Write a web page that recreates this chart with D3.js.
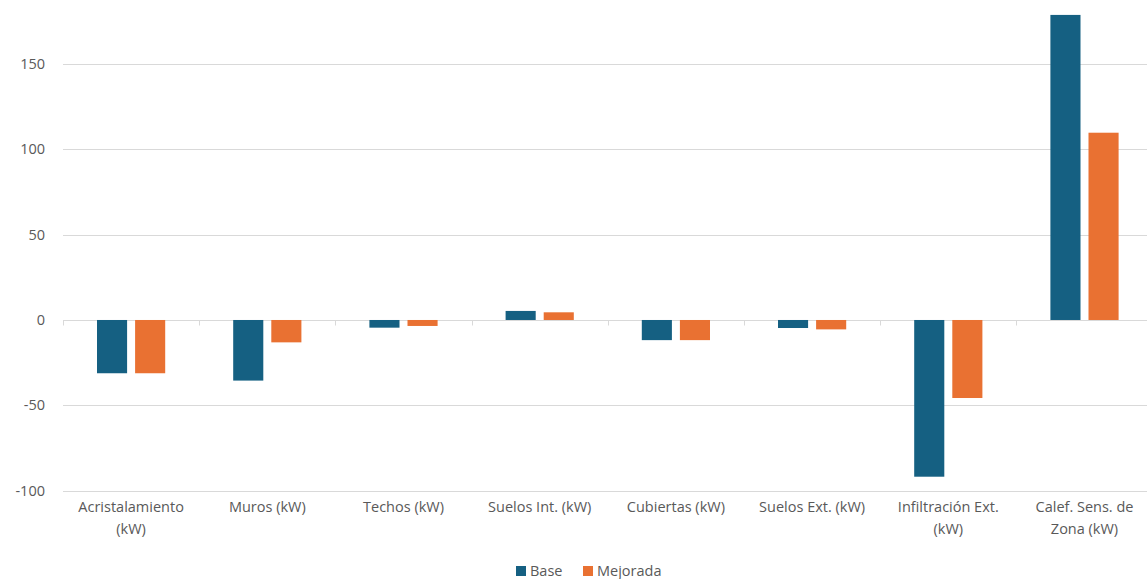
<!DOCTYPE html>
<html>
<head>
<meta charset="utf-8">
<script src="https://cdn.jsdelivr.net/npm/d3@7"></script>
<style>
  html, body { margin: 0; padding: 0; background: #fff; }
  svg { display: block; }
  text { font-family: "Open Sans", "Liberation Sans", sans-serif; fill: #595959; }
</style>
</head>
<body>
<svg id="chart" width="1147" height="579"></svg>
<script>
// Heat balance components (kW) for the base and improved building
const categories = [
  "Acristalamiento (kW)", "Muros (kW)", "Techos (kW)", "Suelos Int. (kW)",
  "Cubiertas (kW)", "Suelos Ext. (kW)", "Infiltración Ext. (kW)", "Calef. Sens. de Zona (kW)"
];
const seriesNames = ["Base", "Mejorada"];
const baseValues = [-31.2, -35.5, -4.5, 5.3, -11.8, -4.7, -91.8, 178.7];
const mejoradaValues = [-31.2, -13.1, -3.5, 4.5, -11.8, -5.5, -45.7, 109.7];
const yTicks = [-100, -50, 0, 50, 100, 150];
const colors = ["#156082", "#E97132"];

const svg = d3.select("#chart");
const plotLeft = 63, bandW = 136.2;
const x = d3.scaleBand()
  .domain(categories)
  .range([plotLeft, plotLeft + bandW * categories.length])
  .paddingInner(0).paddingOuter(0);
const y = d3.scaleLinear().domain([-100, 180]).range([490.7, 12.7]);
const xs = d3.scaleBand().domain(seriesNames).range([34, bandW - 34]).paddingInner(0.21);

// Horizontal gridlines
svg.append("g")
  .selectAll("line")
  .data(yTicks)
  .join("line")
  .attr("x1", plotLeft).attr("x2", 1147)
  .attr("y1", d => Math.round(y(d)) + 0.5).attr("y2", d => Math.round(y(d)) + 0.5)
  .attr("stroke", "#d9d9d9").attr("stroke-width", 1);

// Y axis labels
svg.append("g")
  .selectAll("text")
  .data(yTicks)
  .join("text")
  .attr("x", 45).attr("y", d => y(d))
  .attr("dy", "0.35em")
  .attr("text-anchor", "end")
  .style("font-size", "14.5px")
  .text(d => d);

// Bars
const series = [baseValues, mejoradaValues];
const groups = svg.append("g")
  .selectAll("g")
  .data(seriesNames.map((name, i) => ({ name, values: series[i], color: colors[i] })))
  .join("g")
  .attr("fill", d => d.color);

groups.selectAll("rect")
  .data(d => d.values.map((v, j) => ({ name: d.name, cat: categories[j], v })))
  .join("rect")
  .attr("x", d => x(d.cat) + xs(d.name))
  .attr("width", xs.bandwidth())
  .attr("y", d => y(Math.max(0, d.v)))
  .attr("height", d => Math.abs(y(d.v) - y(0)));

// Zero line tick marks at category boundaries
const zeroY = Math.round(y(0)) + 0.5;
svg.append("g")
  .selectAll("line")
  .data(d3.range(categories.length + 1))
  .join("line")
  .attr("x1", i => Math.round(plotLeft + i * bandW) + 0.5)
  .attr("x2", i => Math.round(plotLeft + i * bandW) + 0.5)
  .attr("y1", zeroY).attr("y2", zeroY + 5)
  .attr("stroke", "#d9d9d9");

// Category labels, wrapped to fit the band
const catG = svg.append("g");
categories.forEach(c => {
  const t = catG.append("text")
    .attr("x", x(c) + bandW / 2)
    .attr("y", 512)
    .attr("text-anchor", "middle")
    .style("font-size", "14.5px");
  const words = c.split(" ");
  let line = [];
  let lineNo = 0;
  let tspan = t.append("tspan").attr("x", x(c) + bandW / 2).attr("dy", 0);
  words.forEach(w => {
    line.push(w);
    tspan.text(line.join(" "));
    if (tspan.node().getComputedTextLength() > 126 && line.length > 1) {
      line.pop();
      tspan.text(line.join(" "));
      line = [w];
      lineNo++;
      tspan = t.append("tspan").attr("x", x(c) + bandW / 2).attr("dy", "1.55em").text(w);
    }
  });
});

// Legend
const legend = svg.append("g");
const legendItems = [{ name: "Base", x: 516 }, { name: "Mejorada", x: 583 }];
legendItems.forEach((d, i) => {
  legend.append("rect")
    .attr("x", d.x).attr("y", 566).attr("width", 10).attr("height", 10)
    .attr("fill", colors[i]);
  legend.append("text")
    .attr("x", d.x + 14).attr("y", 571)
    .attr("dy", "0.35em")
    .style("font-size", "14.5px")
    .text(d.name);
});
</script>
</body>
</html>
